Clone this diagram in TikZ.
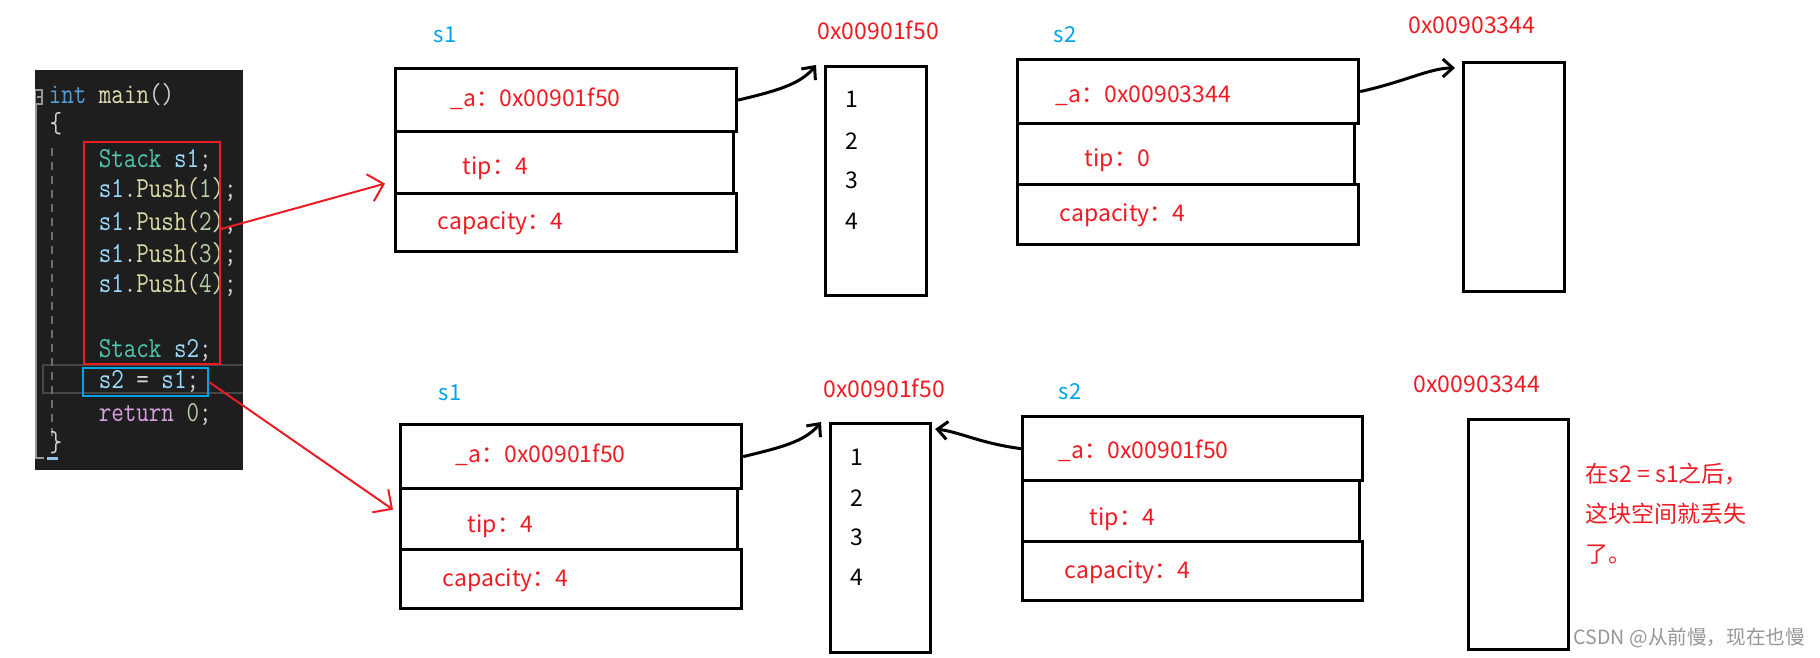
\documentclass[tikz,border=0pt]{standalone}
\usepackage{fontspec}
\setmainfont{Noto Sans CJK SC}
\newfontfamily\codefont[FakeStretch=0.84]{Latin Modern Mono}
\usetikzlibrary{arrows.meta}

\definecolor{paintred}{RGB}{237,28,36}
\definecolor{paintblue}{RGB}{0,162,232}
\definecolor{codebg}{RGB}{30,30,30}
\definecolor{kwblue}{RGB}{86,156,214}
\definecolor{typeteal}{RGB}{78,201,176}
\definecolor{varblue}{RGB}{156,220,254}
\definecolor{fnyellow}{RGB}{220,220,170}
\definecolor{numgreen}{RGB}{181,206,168}
\definecolor{punct}{RGB}{210,210,210}
\definecolor{retpurple}{RGB}{216,160,223}
\definecolor{guide}{RGB}{110,110,110}
\definecolor{markgray}{RGB}{150,150,150}

\tikzset{every picture/.style={line width=0.75pt}}
\tikzset{
  row/.style={draw, line width=1.6pt, inner sep=0pt, anchor=north west},
  field/.style={anchor=base west, inner sep=0pt, text=paintred, font=\fontsize{11.5}{13}\selectfont},
  elem/.style={anchor=base, inner sep=0pt, font=\fontsize{11.5}{13}\selectfont},
  varname/.style={anchor=base west, inner sep=0pt, text=paintblue, font=\fontsize{11}{13}\selectfont},
  code/.style={anchor=base west, inner sep=0pt, text=punct, font=\codefont\fontsize{14.5}{16}\selectfont},
  ptr/.style={line width=1.5pt, -{Straight Barb[length=5pt,width=9pt]}},
  redarrow/.style={paintred, line width=1pt, -{Straight Barb[length=7pt,width=14pt]}}
}

\begin{document}
\begin{tikzpicture}[x=0.5pt,y=0.5pt,yscale=-1,xscale=1]
\useasboundingbox (0,0) rectangle (1820,658);

%Shape: Rectangle (code panel)
\fill[codebg] (35,70) rectangle (243,470);
%Straight Lines (current line)
\draw[color={rgb, 255:red, 70; green, 70; blue, 70}, line width=1.2pt] (243,365) -- (43,365) -- (43,393) -- (243,393);
%Straight Lines (gutter)
\draw[markgray, line width=0.6pt] (35.5,90) rectangle (42,104);
\draw[markgray, line width=0.6pt] (37,97) -- (41,97);
\draw[markgray, line width=1pt] (36,104) -- (36,458) -- (44,458);
\draw[color={rgb, 255:red, 150; green, 200; blue, 230}, line width=1.5pt] (47,458) -- (58,458);
%Straight Lines (indent guide)
\draw[guide, line width=0.8pt, dash pattern={on 4pt off 3pt}] (52,148) -- (52,437);

% Text Node
\node[code] (l1) at (48,104) {\textcolor{kwblue}{int} \textcolor{fnyellow}{main}()};
\node[code] (l2) at (49,133) {\{};
\node[code] (l3) at (98,168) {\textcolor{typeteal}{Stack} \textcolor{varblue}{s1};};
\node[code] (l4) at (98,198) {\textcolor{varblue}{s1}.\textcolor{fnyellow}{Push(}\textcolor{numgreen}{1}\textcolor{fnyellow}{)};};
\node[code] (l5) at (98,230) {\textcolor{varblue}{s1}.\textcolor{fnyellow}{Push(}\textcolor{numgreen}{2}\textcolor{fnyellow}{)};};
\node[code] (l6) at (98,262) {\textcolor{varblue}{s1}.\textcolor{fnyellow}{Push(}\textcolor{numgreen}{3}\textcolor{fnyellow}{)};};
\node[code] (l7) at (98,292) {\textcolor{varblue}{s1}.\textcolor{fnyellow}{Push(}\textcolor{numgreen}{4}\textcolor{fnyellow}{)};};
\node[code] (l8) at (98,357) {\textcolor{typeteal}{Stack} \textcolor{varblue}{s2};};
\node[code] (l9) at (98,388) {\textcolor{varblue}{s2} = \textcolor{varblue}{s1};};
\node[code] (l10) at (98,421) {\textcolor{retpurple}{return} \textcolor{numgreen}{0};};
\node[code] (l11) at (49,451) {\}};

%Shape: Rectangle (marked lines)
\node[draw=paintred, line width=1pt, inner sep=0pt, anchor=north west, minimum width=68pt, minimum height=111pt] (redbox) at (83,141) {};
\node[draw=paintblue, line width=1pt, inner sep=0pt, anchor=north west, minimum width=62.5pt, minimum height=14pt] (bluebox) at (82,367) {};

%Shape: Rectangle (s1, before)
\node[row, minimum width=170.5pt, minimum height=31.5pt] (t1a) at (394,67) {};
\node[row, minimum width=169pt, minimum height=31pt] (t1tip) at (394,130) {};
\node[row, minimum width=170.5pt, minimum height=29pt] (t1cap) at (394,192) {};
%Shape: Rectangle (s1 buffer, before)
\node[row, minimum width=50.5pt, minimum height=114.5pt] (t1arr) at (824,65) {};
%Shape: Rectangle (s2, before)
\node[row, minimum width=170.5pt, minimum height=32pt] (t2a) at (1016,58) {};
\node[row, minimum width=168.5pt, minimum height=30.5pt] (t2tip) at (1016,122) {};
\node[row, minimum width=170.5pt, minimum height=30pt] (t2cap) at (1016,183) {};
%Shape: Rectangle (s2 buffer, before)
\node[row, minimum width=50.5pt, minimum height=114.5pt] (t2arr) at (1462,61) {};

%Shape: Rectangle (s1, after)
\node[row, minimum width=170.5pt, minimum height=32pt] (b1a) at (399,423) {};
\node[row, minimum width=168.5pt, minimum height=30.5pt] (b1tip) at (399,487) {};
\node[row, minimum width=170.5pt, minimum height=29.5pt] (b1cap) at (399,548) {};
%Shape: Rectangle (s1 buffer, after)
\node[row, minimum width=50pt, minimum height=114.5pt] (b1arr) at (829,422) {};
%Shape: Rectangle (s2, after)
\node[row, minimum width=170pt, minimum height=32pt] (b2a) at (1021,415) {};
\node[row, minimum width=168.5pt, minimum height=30.5pt] (b2tip) at (1021,479) {};
\node[row, minimum width=170pt, minimum height=29.5pt] (b2cap) at (1021,540) {};
%Shape: Rectangle (lost buffer)
\node[row, minimum width=50pt, minimum height=115pt] (b2arr) at (1467,418) {};

% Text Node
\node[varname] (t1name) at (433,43) {s1};
\node[varname] (t2name) at (1053,43) {s2};
\node[varname] (b1name) at (438,400) {s1};
\node[varname] (b2name) at (1058,399) {s2};
% Text Node
\node[field] (t1addr) at (817,40) {0x00901f50};
\node[field] (t2addr) at (1408,34) {0x00903344};
\node[field] (b1addr) at (823,397) {0x00901f50};
\node[field] (b2addr) at (1413,392) {0x00903344};
% Text Node
\node[field] (t1atext) at (450,106) {\_a：0x00901f50};
\node[field] (t1tiptext) at (462,175) {tip：4};
\node[field] (t1captext) at (437,229) {capacity：4};
\node[field] (t2atext) at (1055,103) {\_a：0x00903344};
\node[field] (t2tiptext) at (1084,167) {tip：0};
\node[field] (t2captext) at (1059,221) {capacity：4};
\node[field] (b1atext) at (455,462) {\_a：0x00901f50};
\node[field] (b1tiptext) at (467,532) {tip：4};
\node[field] (b1captext) at (442,586) {capacity：4};
\node[field] (b2atext) at (1058,458) {\_a：0x00901f50};
\node[field] (b2tiptext) at (1089,525) {tip：4};
\node[field] (b2captext) at (1064,578) {capacity：4};
% Text Node
\node[elem] (t1e1) at (852,108) {1};
\node[elem] (t1e2) at (852,149) {2};
\node[elem] (t1e3) at (852,188) {3};
\node[elem] (t1e4) at (852,229) {4};
\node[elem] (b1e1) at (857,465) {1};
\node[elem] (b1e2) at (857,506) {2};
\node[elem] (b1e3) at (857,545) {3};
\node[elem] (b1e4) at (857,585) {4};
% Text Node
\node[field] (note1) at (1585,482) {在s2 = s1之后，};
\node[field] (note2) at (1585,522) {这块空间就丢失};
\node[field] (note3) at (1585,562) {了。};
% Text Node
\node[anchor=base west, inner sep=0pt, text=markgray, font=\fontsize{9.8}{11}\selectfont] (mark) at (1573,644) {CSDN @从前慢，现在也慢};

%Curve Lines (pointers)
\draw[ptr] (t1a.east) .. controls +(35,-8.5) and +(-16,20) .. ([xshift=-4pt]t1arr.north west);
\draw[ptr] (t2a.east) .. controls +(45,-10) and +(-25,0) .. ([xshift=-3.5pt,yshift=3.5pt]t2arr.north west);
\draw[ptr] (b1a.east) .. controls +(35,-8.5) and +(-16,20) .. ([xshift=-4pt]b1arr.north west);
\draw[ptr] (b2a.west) .. controls +(-40,-5) and +(25,3) .. ([xshift=1.5pt,yshift=3.5pt]b1arr.north east);
%Straight Lines (red arrows)
\draw[redarrow] ([yshift=-12pt]redbox.east) -- ([xshift=-4.5pt,yshift=10.5pt]t1tip.west);
\draw[redarrow] (bluebox.east) -- ([xshift=-3pt,yshift=-4.75pt]b1tip.west);

\end{tikzpicture}
\end{document}
